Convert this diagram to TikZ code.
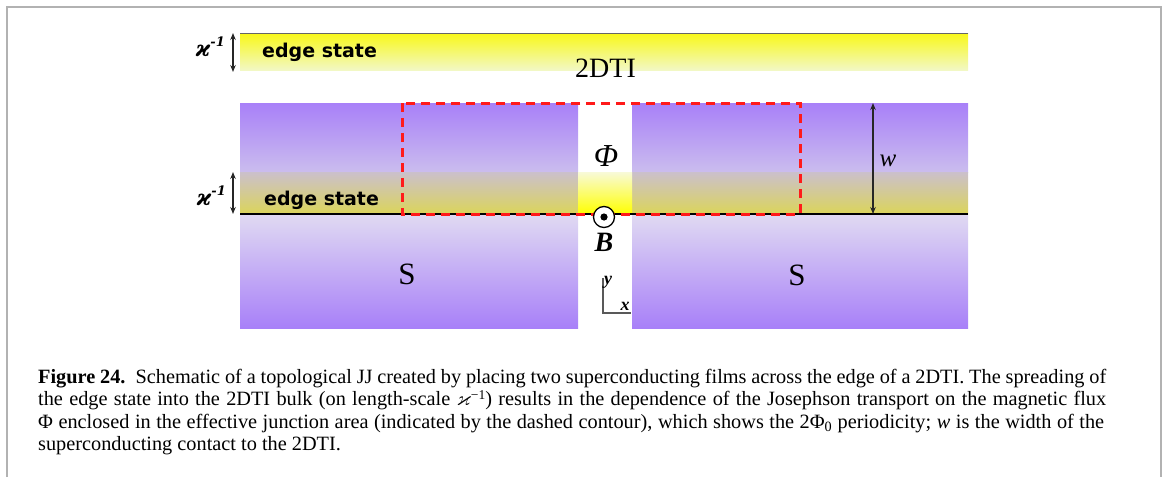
\documentclass[tikz,border=0pt]{standalone}
\usepackage{amsmath,amssymb}
\usepackage{fontspec}
\setmainfont{Liberation Serif}
\newfontfamily\edgefont{DejaVu Sans}
\newfontfamily\kapfont{DejaVu Serif}
\usetikzlibrary{arrows.meta}
\definecolor{spurple}{HTML}{A880F8}
\definecolor{slight}{HTML}{CBBDEE}
\definecolor{slower}{HTML}{E0DAF2}
\definecolor{bandtop}{HTML}{CBC0CC}
\definecolor{bandbot}{HTML}{DBD55A}
\definecolor{gaptop}{HTML}{F8FAD8}
\definecolor{gapbot}{HTML}{FFFF00}
\definecolor{titop}{HTML}{F8F818}
\definecolor{tibot}{HTML}{F2F8C4}
\definecolor{contourred}{HTML}{FF1A1A}
\begin{document}
\begin{tikzpicture}[x=1pt,y=-1pt,
  frameline/.style={draw=black!30, line width=1.2pt},
  dimarrow/.style={{Stealth[length=7pt,width=5.5pt]}-{Stealth[length=7pt,width=5.5pt]}, line width=1.1pt, draw=black!85},
  edgelabel/.style={font=\edgefont\bfseries\fontsize{19}{22}\selectfont, anchor=base west, inner sep=0},
  kappalabel/.style={font=\kapfont\bfseries\itshape\fontsize{22}{24}\selectfont, anchor=base east, inner sep=0},
  biglabel/.style={font=\fontsize{31}{34}\selectfont, anchor=base, inner sep=0},
  caption/.style={font=\fontsize{20.3}{22.5}\selectfont, anchor=base west, inner sep=0, align=left},
  contour/.style={draw=contourred, line width=3pt, dash pattern=on 9pt off 6pt},
  axisline/.style={draw=black!65, line width=1.1pt},
]
\useasboundingbox (0,0) rectangle (1165,477);
% frame
\draw[frameline] (7,477) -- (7,7) -- (1161,7) -- (1161,477);

% top 2DTI band
\shade[top color=titop, bottom color=tibot] (240,33) rectangle (968,70);
\draw[draw=black!60, line width=1pt] (240,33) -- (968,33);
\node[edgelabel] (es1) at (262,57) {edge state};
\node[font=\fontsize{28}{30}\selectfont, anchor=base west, inner sep=0] (ti) at (575,77) {2DTI};
\node[kappalabel] (k1) at (225,56) {ϰ\raisebox{0.45em}{\fontsize{13}{14}\selectfont -1}};
\coordinate (k1t) at (233,33);
\coordinate (k1b) at (233,72);
\draw[dimarrow] (k1t) -- (k1b);

% superconductors, upper parts
\shade[top color=spurple, bottom color=slight] (240,103) rectangle (578,172);
\shade[top color=spurple, bottom color=slight] (632,103) rectangle (968,172);
\shade[top color=bandtop, bottom color=bandbot] (240,172) rectangle (578,214);
\shade[top color=bandtop, bottom color=bandbot] (632,172) rectangle (968,214);
\shade[top color=gaptop, bottom color=gapbot] (578,172) rectangle (632,214);
% lower parts
\shade[top color=slower, bottom color=spurple] (240,214) rectangle (578,328);
\shade[top color=slower, bottom color=spurple] (632,214) rectangle (968,328);

% edge line
\coordinate (eL) at (240,214);
\coordinate (eR) at (968,214);
\draw[black, line width=1.2pt] (eL) -- (eR);

% dashed contour
\draw[contour] (402,103) rectangle (800,214);

\node[edgelabel] (es2) at (264,205) {edge state};
\node[kappalabel] (k2) at (226,205) {ϰ\raisebox{0.45em}{\fontsize{13}{14}\selectfont -1}};
\coordinate (k2t) at (233,172);
\coordinate (k2b) at (233,214);
\draw[dimarrow] (k2t) -- (k2b);

% flux
\node[font=\fontsize{32}{34}\selectfont\itshape, inner sep=0] (phi) at (606,156) {Φ};
% B field
\node[circle, draw=black, fill=white, line width=1.3pt, minimum size=21pt, inner sep=0] (bc) at (604,217) {};
\fill[black] (bc.center) circle (3.6pt);
\node[font=\fontsize{28}{30}\selectfont\bfseries\itshape, inner sep=0] (B) at (604,242.5) {B};

% w dimension
\coordinate (wt) at (873,103);
\coordinate (wb) at (873,214);
\draw[dimarrow] (wt) -- (wb);
\node[font=\fontsize{25}{27}\selectfont\itshape, anchor=base, inner sep=0] (w) at (888,166) {w};

% S labels
\node[biglabel] (S1) at (407,284) {S};
\node[biglabel] (S2) at (797,285) {S};

% axes
\coordinate (ax0) at (603,313);
\coordinate (axy) at (603,278);
\coordinate (axx) at (631,313);
\draw[axisline] (axy) -- (ax0) -- (axx);
\node[font=\fontsize{18}{20}\selectfont\bfseries\itshape, inner sep=0] (ly) at (608,282) {y};
\node[font=\fontsize{18}{20}\selectfont\bfseries\itshape, inner sep=0] (lx) at (625,306) {x};

% caption
\node[caption] (cap) at (38,450.5) {\makebox[1068pt][s]{\textbf{Figure 24.}\enspace Schematic of a topological JJ created by placing two superconducting films across the edge of a 2DTI. The spreading of}\\
\makebox[1068pt][s]{the edge state into the 2DTI bulk (on length-scale $\varkappa$\raisebox{0.28em}{\fontsize{13.5}{14}\selectfont −1}) results in the dependence of the Josephson transport on the magnetic flux}\\
\makebox[1066pt][s]{Φ enclosed in the effective junction area (indicated by the dashed contour), which shows the 2Φ\textsubscript{0} periodicity; \textit{w} is the width of the}\\
superconducting contact to the 2DTI.};
\end{tikzpicture}
\end{document}
